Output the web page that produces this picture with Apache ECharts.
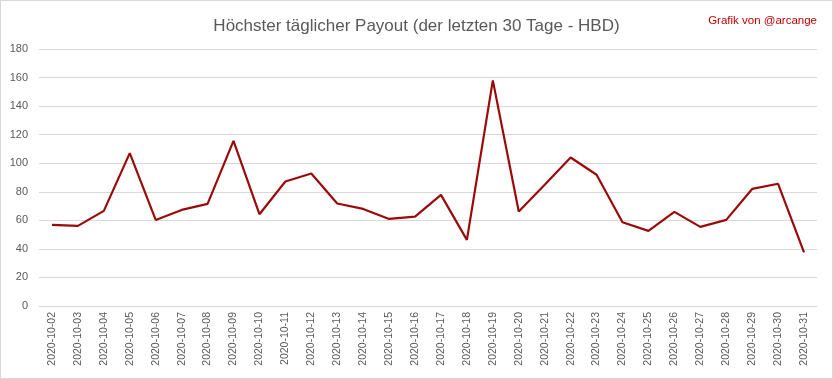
<!DOCTYPE html>
<html><head><meta charset="utf-8">
<script src="https://cdn.jsdelivr.net/npm/echarts@6/dist/echarts.min.js"></script>
<style>
html,body{margin:0;padding:0;background:#fff;}
#c{width:831px;height:377px;border:1px solid #d9d9d9;}
</style></head>
<body><div id="c"></div>
<script>
const categories = ["2020-10-02","2020-10-03","2020-10-04","2020-10-05","2020-10-06","2020-10-07","2020-10-08","2020-10-09","2020-10-10","2020-10-11","2020-10-12","2020-10-13","2020-10-14","2020-10-15","2020-10-16","2020-10-17","2020-10-18","2020-10-19","2020-10-20","2020-10-21","2020-10-22","2020-10-23","2020-10-24","2020-10-25","2020-10-26","2020-10-27","2020-10-28","2020-10-29","2020-10-30","2020-10-31"];
const payout = [56.8,56.1,66.6,107.1,60.3,67.3,71.5,115.7,64.3,87.2,92.8,71.8,68.0,61.0,62.6,77.8,46.3,158.0,66.2,84.9,104.0,91.9,58.7,52.6,65.9,55.4,60.3,82.0,85.6,37.6];
const titleText = "Höchster täglicher Payout (der letzten 30 Tage - HBD)";
const creditText = "Grafik von @arcange";

const chart = echarts.init(document.getElementById('c'));
chart.setOption({
  animation:false,
  backgroundColor:'#fff',
  title:[
    {text:titleText,left:'center',top:12,textStyle:{fontFamily:'Liberation Sans, sans-serif',fontWeight:'normal',fontSize:17,color:'#595959'}},
    {text:creditText,right:10,top:9,textStyle:{fontFamily:'Liberation Sans, sans-serif',fontWeight:'normal',fontSize:11.5,color:'#c00000'}}
  ],
  grid:{left:38,right:15,top:48,bottom:72,containLabel:false},
  xAxis:{type:'category',data:categories,boundaryGap:true,
    axisLine:{lineStyle:{color:'#d9d9d9'}},axisTick:{show:false},
    axisLabel:{rotate:90,interval:0,color:'#595959',fontSize:10.5,fontFamily:'Liberation Sans, sans-serif',margin:6}},
  yAxis:{type:'value',min:0,max:180,interval:20,
    axisLine:{show:false},axisTick:{show:false},
    splitLine:{lineStyle:{color:'#d9d9d9'}},
    axisLabel:{color:'#595959',fontSize:11,fontFamily:'Liberation Sans, sans-serif',margin:11}},
  series:[{type:'line',data:payout,symbol:'none',lineStyle:{color:'#9b0a0a',width:2.2},itemStyle:{color:'#9b0a0a'}}]
});
</script></body></html>
